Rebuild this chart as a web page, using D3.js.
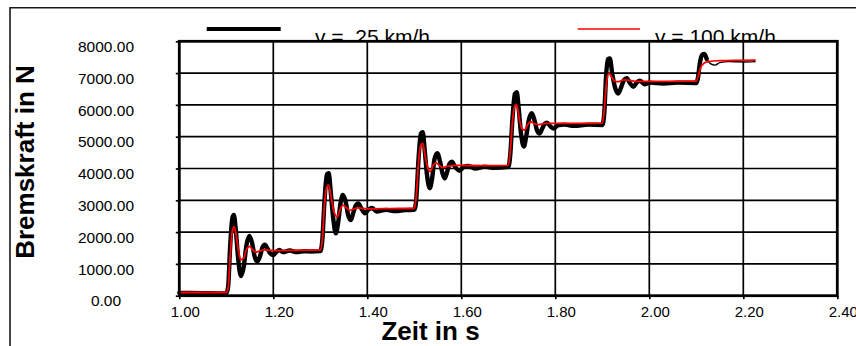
<!DOCTYPE html>
<html>
<head>
<meta charset="utf-8">
<script src="https://cdn.jsdelivr.net/npm/d3@7"></script>
<style>
  html, body { margin: 0; padding: 0; background: #fff; }
  svg { display: block; font-family: "Liberation Sans", Arial, sans-serif; }
</style>
</head>
<body>
<svg id="chart" width="856" height="346"></svg>
<script>
// Braking force step response at two speeds
const seriesLabels = ["v =  25 km/h", "v = 100 km/h"];
const seriesColors = ["#000000", "#ff0000"];

const xTickValues = [1.0, 1.2, 1.4, 1.6, 1.8, 2.0, 2.2, 2.4];
const yTickValues = [0, 1000, 2000, 3000, 4000, 5000, 6000, 7000, 8000];

// v = 25 km/h : time (s) and force (N)
const timeSlow = [
  1.000, 1.050, 1.100, 1.104, 1.108, 1.113, 1.116, 1.120, 1.125, 1.131,
  1.137, 1.143, 1.149, 1.155, 1.160, 1.166, 1.172, 1.177, 1.182, 1.188,
  1.194, 1.200, 1.207, 1.213, 1.220, 1.235, 1.250, 1.265, 1.280, 1.300,
  1.304, 1.309, 1.314, 1.318, 1.322, 1.327, 1.333, 1.338, 1.343, 1.348,
  1.354, 1.359, 1.365, 1.370, 1.376, 1.381, 1.387, 1.395, 1.402, 1.410,
  1.420, 1.440, 1.460, 1.480, 1.500, 1.504, 1.509, 1.514, 1.518, 1.522,
  1.527, 1.533, 1.538, 1.543, 1.549, 1.555, 1.560, 1.565, 1.570, 1.575,
  1.580, 1.587, 1.596, 1.605, 1.615, 1.630, 1.650, 1.670, 1.700, 1.704,
  1.709, 1.714, 1.718, 1.722, 1.727, 1.733, 1.738, 1.744, 1.750, 1.756,
  1.761, 1.766, 1.772, 1.777, 1.782, 1.790, 1.797, 1.805, 1.820, 1.840,
  1.870, 1.900, 1.904, 1.908, 1.912, 1.916, 1.921, 1.927, 1.934, 1.940,
  1.946, 1.952, 1.959, 1.966, 1.973, 1.980, 1.990, 2.000, 2.030, 2.060,
  2.100, 2.104, 2.108, 2.113, 2.117, 2.122, 2.130, 2.140, 2.150, 2.170,
  2.200, 2.225
];
const forceSlow = [
    90,   80,   70,  300, 1500, 2450, 2540, 2100, 1200,  620,
   900, 1600, 1880, 1650, 1250, 1070, 1250, 1520, 1600, 1470,
  1320, 1280, 1380, 1440, 1370, 1420, 1370, 1400, 1390, 1400,
  1700, 3000, 3820, 3850, 3300, 2500, 1960, 2300, 2900, 3170,
  2950, 2550, 2380, 2600, 2850, 2900, 2750, 2590, 2700, 2760,
  2650, 2700, 2660, 2690, 2700, 3000, 4300, 5100, 5140, 4600,
  3800, 3380, 3700, 4300, 4480, 4200, 3850, 3690, 3900, 4150,
  4210, 4050, 3930, 4050, 4080, 4000, 4060, 4020, 4050, 4400,
  5600, 6350, 6400, 5900, 5100, 4690, 5000, 5550, 5740, 5500,
  5200, 5100, 5250, 5400, 5440, 5320, 5260, 5360, 5380, 5340,
  5380, 5370, 5700, 6900, 7440, 7460, 7000, 6550, 6360, 6550,
  6780, 6840, 6680, 6570, 6700, 6760, 6650, 6700, 6670, 6700,
  6690, 6900, 7350, 7580, 7600, 7450, 7300, 7250, 7330, 7360,
  7350, 7360
];

// v = 100 km/h : time (s) and force (N)
const timeFast = [
  1.000, 1.100, 1.104, 1.108, 1.113, 1.117, 1.121, 1.126, 1.131, 1.137,
  1.143, 1.149, 1.156, 1.163, 1.170, 1.180, 1.200, 1.250, 1.300, 1.304,
  1.309, 1.314, 1.318, 1.323, 1.330, 1.336, 1.342, 1.348, 1.355, 1.362,
  1.370, 1.380, 1.400, 1.450, 1.500, 1.504, 1.509, 1.514, 1.518, 1.523,
  1.529, 1.534, 1.540, 1.546, 1.553, 1.560, 1.570, 1.590, 1.650, 1.700,
  1.704, 1.709, 1.714, 1.718, 1.723, 1.729, 1.735, 1.741, 1.748, 1.756,
  1.765, 1.780, 1.850, 1.900, 1.904, 1.909, 1.914, 1.919, 1.926, 1.935,
  1.945, 1.955, 1.970, 2.000, 2.100, 2.104, 2.110, 2.117, 2.125, 2.150,
  2.225
];
const forceFast = [
   100,  100,  250, 1200, 2050, 2170, 1900, 1400, 1130, 1180,
  1450, 1550, 1450, 1370, 1400, 1440, 1420, 1430, 1440, 1700,
  2900, 3430, 3480, 3100, 2600, 2480, 2700, 2850, 2780, 2680,
  2720, 2760, 2730, 2740, 2750, 3100, 4200, 4750, 4790, 4400,
  4000, 3900, 4100, 4180, 4100, 4030, 4070, 4100, 4090, 4100,
  4500, 5500, 5980, 6000, 5600, 5250, 5210, 5380, 5470, 5400,
  5380, 5420, 5420, 5430, 5800, 6700, 6990, 6900, 6750, 6730,
  6790, 6780, 6740, 6740, 6750, 6900, 7200, 7320, 7360, 7390,
  7410
];

const svg = d3.select("#chart");

const plot = { left: 179.3, right: 837.3, top: 41.3, bottom: 295.7 };

const x = d3.scaleLinear().domain([1.0, 2.4]).range([plot.left, plot.right]);
const y = d3.scaleLinear().domain([0, 8000]).range([plot.bottom, plot.top]);

// outer chart frame (runs off the right and bottom edge)
svg.append("path")
  .attr("d", "M10,400 L10,7.8 L900,7.8")
  .attr("fill", "none")
  .attr("stroke", "#1a1a1a")
  .attr("stroke-width", 1.6);

// legend, sitting just above the plot area
const legend = svg.append("g");
const legendItems = [
  { x1: 206.7, x2: 280.7, tx: 315, width: 4 },
  { x1: 577.7, x2: 640.0, tx: 655, width: 1.6 }
];
legendItems.forEach((d, i) => {
  legend.append("line")
    .attr("x1", d.x1).attr("x2", d.x2)
    .attr("y1", 29).attr("y2", 29)
    .attr("stroke", seriesColors[i])
    .attr("stroke-width", d.width);
  legend.append("text")
    .attr("x", d.tx).attr("y", 44)
    .attr("font-size", 21)
    .attr("fill", "#000")
    .style("white-space", "pre")
    .text(seriesLabels[i]);
});

// plot background covers the lower part of the legend text
svg.append("rect")
  .attr("x", plot.left).attr("y", plot.top)
  .attr("width", plot.right - plot.left)
  .attr("height", plot.bottom - plot.top)
  .attr("fill", "#fff");

// gridlines
const grid = svg.append("g").attr("stroke", "#000").attr("stroke-width", 1.7);
xTickValues.slice(1, -1).forEach(v => {
  grid.append("line")
    .attr("x1", x(v)).attr("x2", x(v))
    .attr("y1", plot.top).attr("y2", plot.bottom);
});
yTickValues.slice(1, -1).forEach(v => {
  grid.append("line")
    .attr("x1", plot.left).attr("x2", plot.right)
    .attr("y1", y(v)).attr("y2", y(v));
});

// series
const slow = timeSlow.map((t, i) => [t, forceSlow[i]]);
const fast = timeFast.map((t, i) => [t, forceFast[i]]);

const line = d3.line()
  .x(d => x(d[0]))
  .y(d => y(d[1]))
  .curve(d3.curveMonotoneX);

const series = svg.append("g").attr("fill", "none")
  .attr("stroke-linejoin", "round").attr("stroke-linecap", "round");

// measured trace at 25 km/h: heavy, noisy band until the last step settles
series.append("path")
  .attr("d", line(slow))
  .attr("stroke", seriesColors[0])
  .attr("stroke-width", 1.4);
series.append("path")
  .attr("d", line(slow.filter(d => d[0] <= 2.125)))
  .attr("stroke", seriesColors[0])
  .attr("stroke-width", 4.4);

series.append("path")
  .attr("d", line(fast))
  .attr("stroke", seriesColors[1])
  .attr("stroke-width", 1.8);

// plot border
svg.append("rect")
  .attr("x", plot.left).attr("y", plot.top)
  .attr("width", plot.right - plot.left)
  .attr("height", plot.bottom - plot.top)
  .attr("fill", "none")
  .attr("stroke", "#000")
  .attr("stroke-width", 2.8);

// axes: short outer ticks, labels placed separately
const xAxis = d3.axisBottom(x).tickValues(xTickValues).tickSize(3.5).tickFormat("");
const yAxis = d3.axisLeft(y).tickValues(yTickValues).tickSize(3.5).tickFormat("");

svg.append("g")
  .attr("transform", `translate(0,${plot.bottom})`)
  .call(xAxis)
  .call(g => g.select(".domain").remove())
  .call(g => g.selectAll("line").attr("stroke", "#000").attr("stroke-width", 1.7));

svg.append("g")
  .attr("transform", `translate(${plot.left},0)`)
  .call(yAxis)
  .call(g => g.select(".domain").remove())
  .call(g => g.selectAll("line").attr("stroke", "#000").attr("stroke-width", 1.7));

// tick labels
svg.append("g").selectAll("text")
  .data(xTickValues)
  .join("text")
  .attr("x", d => x(d) + 6)
  .attr("y", 317)
  .attr("text-anchor", "middle")
  .attr("font-size", 15)
  .attr("fill", "#000")
  .text(d => d.toFixed(2));

svg.append("g").selectAll("text")
  .data(yTickValues)
  .join("text")
  .attr("x", 106)
  .attr("y", d => y(d) + 10.6)
  .attr("text-anchor", "middle")
  .attr("font-size", 15.5)
  .attr("fill", "#000")
  .text(d => d.toFixed(2));

// axis titles
svg.append("text")
  .attr("x", 430.5).attr("y", 340)
  .attr("text-anchor", "middle")
  .attr("font-size", 26)
  .attr("font-weight", "bold")
  .attr("fill", "#000")
  .text("Zeit in s");

svg.append("text")
  .attr("transform", "translate(34,162) rotate(-90)")
  .attr("text-anchor", "middle")
  .attr("font-size", 26)
  .attr("font-weight", "bold")
  .attr("fill", "#000")
  .text("Bremskraft in N");
</script>
</body>
</html>
